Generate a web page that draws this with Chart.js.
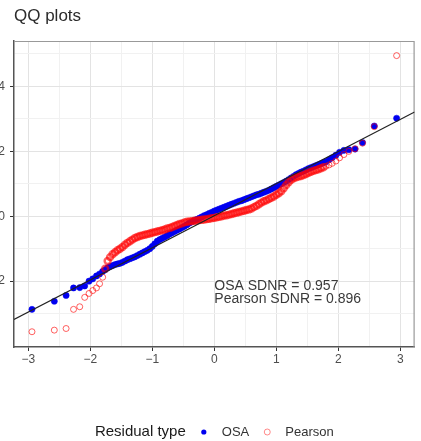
<!DOCTYPE html>
<html>
<head>
<meta charset="utf-8">
<script src="https://cdn.jsdelivr.net/npm/chart.js@4.4.1/dist/chart.umd.min.js"></script>
<style>
  html, body { margin: 0; padding: 0; background: #fff; overflow: hidden; }
  #wrap { position: relative; width: 421px; height: 441px; overflow: hidden; }
  /* canvas is shifted left so the y labels run off the edge */
  #box { position: absolute; left: -16px; top: 0; width: 437px; height: 441px; }
</style>
</head>
<body>
<div id="wrap"><div id="box"><canvas id="qq"></canvas></div></div>
<script>
// theoretical normal quantiles, shared by both residual types
const theoQ = [
  -2.94, -2.58, -2.39, -2.27, -2.17, -2.09, -2.02, -1.96, -1.90, -1.85, -1.80,
  -1.76, -1.72, -1.68, -1.64, -1.60, -1.56, -1.52, -1.48, -1.44, -1.40,
  -1.36, -1.32, -1.28, -1.24, -1.20, -1.16, -1.12, -1.08, -1.04, -1.00,
  -0.96, -0.92, -0.88, -0.84, -0.80, -0.76, -0.72, -0.68, -0.64, -0.60,
  -0.56, -0.52, -0.48, -0.44, -0.40, -0.36, -0.32, -0.28, -0.24, -0.20,
  -0.16, -0.12, -0.08, -0.04, 0.00, 0.04, 0.08, 0.12, 0.16, 0.20,
  0.24, 0.28, 0.32, 0.36, 0.40, 0.44, 0.48, 0.52, 0.56, 0.60,
  0.64, 0.68, 0.72, 0.76, 0.80, 0.84, 0.88, 0.92, 0.96, 1.00,
  1.04, 1.08, 1.12, 1.16, 1.20, 1.24, 1.28, 1.32, 1.36, 1.40,
  1.44, 1.48, 1.52, 1.56, 1.60, 1.64, 1.68, 1.72, 1.76,
  1.80, 1.85, 1.90, 1.96, 2.02, 2.09, 2.17, 2.27, 2.39, 2.58, 2.94
];

// sorted OSA residuals
const osaResid = [
  -2.87, -2.62, -2.44, -2.21, -2.20, -2.15, -2.00, -1.93, -1.84, -1.78, -1.70,
  -1.65, -1.59, -1.55, -1.52, -1.49, -1.47, -1.45, -1.42, -1.38, -1.34,
  -1.31, -1.28, -1.25, -1.21, -1.17, -1.13, -1.09, -1.05, -1.00, -0.93,
  -0.85, -0.77, -0.72, -0.68, -0.64, -0.60, -0.55, -0.51, -0.47, -0.43,
  -0.39, -0.35, -0.31, -0.26, -0.21, -0.17, -0.13, -0.10, -0.06, -0.02,
  0.02, 0.05, 0.09, 0.12, 0.16, 0.19, 0.22, 0.25, 0.28, 0.31,
  0.34, 0.37, 0.40, 0.43, 0.46, 0.48, 0.51, 0.54, 0.57, 0.60,
  0.63, 0.66, 0.68, 0.71, 0.74, 0.77, 0.80, 0.84, 0.88, 0.92,
  0.96, 1.00, 1.04, 1.08, 1.13, 1.18, 1.23, 1.28, 1.32, 1.36,
  1.39, 1.43, 1.47, 1.50, 1.53, 1.56, 1.59, 1.62, 1.65,
  1.68, 1.74, 1.80, 1.88, 1.97, 2.03, 2.05, 2.07, 2.27, 2.78, 3.02
];

// sorted Pearson residuals
const pearsonResid = [
  -3.56, -3.51, -3.46, -2.87, -2.79, -2.50, -2.38, -2.29, -2.21, -2.08, -1.88,
  -1.62, -1.38, -1.26, -1.17, -1.11, -1.05, -1.00, -0.95, -0.88, -0.82,
  -0.77, -0.72, -0.67, -0.64, -0.61, -0.59, -0.57, -0.55, -0.53, -0.51,
  -0.49, -0.47, -0.45, -0.43, -0.41, -0.38, -0.36, -0.33, -0.30, -0.27,
  -0.24, -0.22, -0.19, -0.17, -0.16, -0.15, -0.14, -0.13, -0.12, -0.11,
  -0.10, -0.09, -0.08, -0.06, -0.05, -0.03, -0.02, 0.00, 0.02, 0.03,
  0.05, 0.07, 0.09, 0.11, 0.13, 0.15, 0.17, 0.19, 0.21, 0.24,
  0.28, 0.32, 0.37, 0.42, 0.46, 0.49, 0.53, 0.57, 0.61, 0.66,
  0.71, 0.77, 0.86, 0.96, 1.05, 1.12, 1.17, 1.20, 1.22, 1.24,
  1.27, 1.30, 1.34, 1.37, 1.40, 1.42, 1.45, 1.48, 1.51,
  1.54, 1.58, 1.63, 1.70, 1.80, 1.90, 2.00, 2.08, 2.25, 2.76, 4.95
];

// reference line end points
const lineX = [-3.23, 3.23];
const lineY = [-3.18, 3.21];

const xTicks = [-3, -2.5, -2, -1.5, -1, -0.5, 0, 0.5, 1, 1.5, 2, 2.5, 3];
const yTicks = [-3, -2, -1, 0, 1, 2, 3, 4, 5];
const xRange = [-3.23, 3.23];
const yRange = [-4.03, 5.4];

const titleText = 'QQ plots';
const sdnrText = ['OSA SDNR = 0.957', 'Pearson SDNR = 0.896'];
const sdnrX = 0;
const sdnrY = [-2.15, -2.55];
const legendTitle = 'Residual type';
const legendNames = ['OSA', 'Pearson'];

const FONT = '"Liberation Sans", Arial, sans-serif';
const OSA_COL = '#0000f0';
const PEAR_COL = 'rgba(255,0,0,0.62)';

const isMajorX = v => Number.isInteger(v);
const isMajorY = v => v % 2 === 0;
const fmt = v => (v < 0 ? '\u2212' + Math.abs(v) : String(v));
// rings in the crowded middle get a heavier stroke so they read as one band
const inBand = c => Math.abs(theoQ[c.dataIndex]) < 1.78;

function axisOpts(range, ticks, isMajor) {
  return {
    type: 'linear',
    min: range[0],
    max: range[1],
    afterBuildTicks: s => { s.ticks = ticks.map(v => ({ value: v })); },
    ticks: {
      autoSkip: false,
      color: '#4d4d4d',
      font: { family: FONT, size: 12 },
      callback: v => (isMajor(v) ? fmt(v) : '')
    },
    grid: {
      color: c => (c.tick && isMajor(c.tick.value) ? '#e3e3e3' : '#f1f1f1'),
      lineWidth: 1,
      tickLength: 4,
      tickColor: c => (c.tick && isMajor(c.tick.value) ? '#333' : 'rgba(0,0,0,0)')
    },
    border: { color: '#555', width: 1.5 }
  };
}

const xScale = axisOpts(xRange, xTicks, isMajorX);
xScale.ticks.padding = 1;
xScale.afterFit = s => { s.height = 22; };
const yScale = axisOpts(yRange, yTicks, isMajorY);
yScale.ticks.padding = 5;
yScale.afterFit = s => { s.width = 30; };

// panel frame, title, SDNR note and legend
const decorations = {
  id: 'decorations',
  beforeDatasetsDraw(chart) {
    const { ctx, chartArea: a } = chart;
    ctx.save();
    ctx.strokeStyle = '#999';
    ctx.lineWidth = 1.2;
    ctx.beginPath();
    ctx.moveTo(a.left, a.top + 0.5);
    ctx.lineTo(a.right - 0.5, a.top + 0.5);
    ctx.lineTo(a.right - 0.5, a.bottom);
    ctx.stroke();
    ctx.restore();
  },
  afterDatasetsDraw(chart) {
    const { ctx, scales } = chart;
    ctx.save();
    ctx.fillStyle = '#3a3a3a';
    ctx.font = '14px ' + FONT;
    ctx.textAlign = 'left';
    ctx.textBaseline = 'middle';
    sdnrText.forEach((t, i) => {
      ctx.fillText(t, scales.x.getPixelForValue(sdnrX), scales.y.getPixelForValue(sdnrY[i]));
    });
    ctx.restore();
  },
  afterDraw(chart) {
    const { ctx, chartArea: a } = chart;
    ctx.save();
    ctx.fillStyle = '#2b2b2b';
    ctx.font = '17px ' + FONT;
    ctx.textBaseline = 'alphabetic';
    ctx.fillText(titleText, a.left, 21);

    // legend row centred under the panel
    const y = 432;
    ctx.font = '15px ' + FONT;
    const wTitle = ctx.measureText(legendTitle).width;
    ctx.font = '13px ' + FONT;
    const wNames = legendNames.map(n => ctx.measureText(n).width);
    const total = wTitle + 36 + wNames[0] + 36 + wNames[1];
    let x = (a.left + a.right) / 2 - total / 2;
    ctx.textBaseline = 'middle';
    ctx.fillStyle = '#1a1a1a';
    ctx.font = '15px ' + FONT;
    ctx.fillText(legendTitle, x, y);
    x += wTitle + 18;
    ctx.fillStyle = OSA_COL;
    ctx.beginPath();
    ctx.arc(x, y, 2.6, 0, Math.PI * 2);
    ctx.fill();
    x += 18;
    ctx.fillStyle = '#333';
    ctx.font = '13px ' + FONT;
    ctx.fillText(legendNames[0], x, y);
    x += wNames[0] + 18;
    ctx.strokeStyle = 'rgba(255,60,60,0.6)';
    ctx.lineWidth = 1;
    ctx.beginPath();
    ctx.arc(x, y, 3, 0, Math.PI * 2);
    ctx.stroke();
    x += 18;
    ctx.fillText(legendNames[1], x, y);
    ctx.restore();
  }
};

new Chart(document.getElementById('qq').getContext('2d'), {
  type: 'scatter',
  data: {
    datasets: [{
      label: 'qqline',
      data: lineX.map((x, i) => ({ x: x, y: lineY[i] })),
      showLine: true,
      borderColor: '#222',
      borderWidth: 1.1,
      pointRadius: 0,
      order: 0
    }, {
      label: legendNames[1],
      data: theoQ.map((x, i) => ({ x: x, y: pearsonResid[i] })),
      pointRadius: 3,
      borderWidth: c => (inBand(c) ? 2.4 : 1),
      borderColor: PEAR_COL,
      backgroundColor: 'rgba(0,0,0,0)',
      order: 1
    }, {
      label: legendNames[0],
      data: theoQ.map((x, i) => ({ x: x, y: osaResid[i] })),
      pointRadius: 3.1,
      borderWidth: 0.5,
      borderColor: OSA_COL,
      backgroundColor: OSA_COL,
      order: 2
    }]
  },
  options: {
    responsive: true,
    maintainAspectRatio: false,
    animation: false,
    events: [],
    layout: { padding: { top: 41, left: 0, right: 2, bottom: 72 } },
    plugins: { legend: { display: false }, tooltip: { enabled: false } },
    scales: { x: xScale, y: yScale }
  },
  plugins: [decorations]
});
</script>
</body>
</html>
